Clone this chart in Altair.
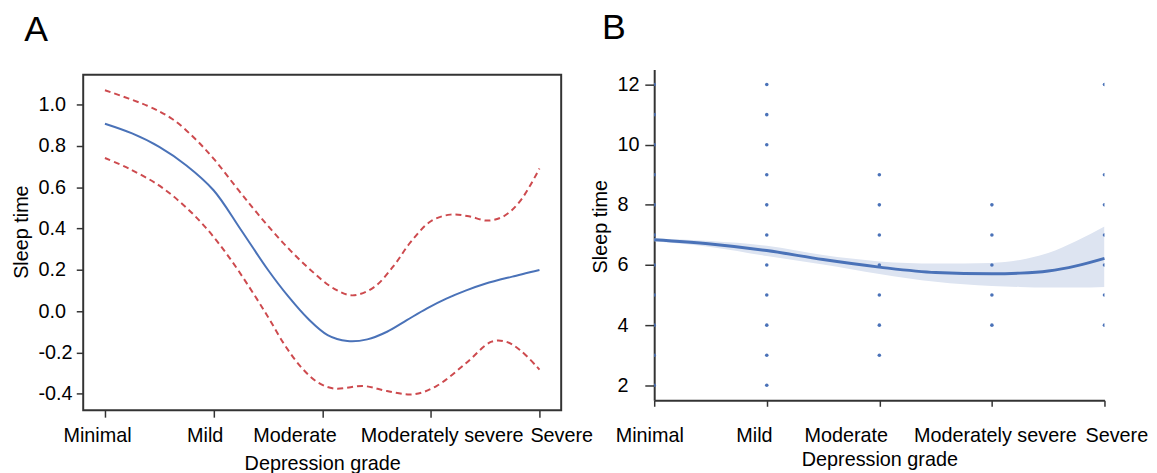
import json
import altair as alt
import pandas as pd

# ---------------- data ----------------
grades = ["Minimal", "Mild", "Moderate", "Moderately severe", "Severe"]
grade_pos = [1, 2, 3, 4, 5]

# Panel A: fitted curve and its 95% CI (dashed)
fit_x = [1.0, 1.25, 1.5, 1.75, 2.0, 2.25, 2.5, 2.686, 2.868, 3.05, 3.232, 3.415, 3.597, 3.779,
         3.961, 4.143, 4.326, 4.5, 4.75, 5.0]
fit_y = [0.907, 0.860, 0.795, 0.705, 0.585, 0.395, 0.200, 0.072, -0.036, -0.116, -0.145, -0.137,
         -0.100, -0.044, 0.012, 0.060, 0.100, 0.132, 0.167, 0.199]
upper_x = [1.0, 1.39, 1.62, 1.83, 2.0, 2.23, 2.40, 2.625, 2.868, 3.111, 3.278, 3.475, 3.658, 3.81,
           4.0, 4.18, 4.35, 4.52, 4.67, 4.82, 5.0]
upper_y = [1.069, 0.994, 0.930, 0.834, 0.738, 0.585, 0.475, 0.339, 0.211, 0.108, 0.076, 0.115,
           0.219, 0.331, 0.435, 0.467, 0.459, 0.438, 0.459, 0.531, 0.690]
lower_x = [1.0, 1.22, 1.49, 1.72, 1.93, 2.13, 2.33, 2.503, 2.656, 2.807, 2.959, 3.111, 3.384,
           3.597, 3.84, 4.052, 4.326, 4.56, 4.69, 4.82, 5.0]
lower_y = [0.741, 0.690, 0.611, 0.515, 0.403, 0.270, 0.115, -0.030, -0.165, -0.272, -0.345, -0.375,
           -0.363, -0.387, -0.403, -0.363, -0.251, -0.148, -0.148, -0.188, -0.283]
a_ticks = [-0.4, -0.2, 0.0, 0.2, 0.4, 0.6, 0.8, 1.0]

# Panel B: raw observations per grade
sleep_minimal = [2, 3, 4, 5, 6, 7, 8, 9, 10, 11, 12]
sleep_mild = [2, 3, 4, 5, 6, 7, 8, 9, 10, 11, 12]
sleep_moderate = [3, 4, 5, 6, 7, 8, 9]
sleep_modsevere = [4, 5, 6, 7, 8]
sleep_severe = [4, 5, 6, 7, 8, 9, 12]
# smooth fit with confidence band
smooth_x = [1.0, 1.5, 2.0, 2.5, 3.0, 3.5, 4.0, 4.25, 4.5, 4.75, 5.0]
smooth_y = [6.84, 6.70, 6.48, 6.18, 5.93, 5.75, 5.71, 5.73, 5.80, 5.97, 6.22]
smooth_lo = [6.79, 6.60, 6.30, 6.02, 5.70, 5.44, 5.30, 5.27, 5.25, 5.25, 5.27]
smooth_hi = [6.88, 6.80, 6.64, 6.33, 6.12, 6.05, 6.07, 6.17, 6.40, 6.80, 7.28]
b_ticks = [2, 4, 6, 8, 10, 12]

# ---------------- tables ----------------
dfA_fit = pd.DataFrame({"x": fit_x, "y": fit_y})
dfA_ci = pd.concat([
    pd.DataFrame({"x": upper_x, "y": upper_y, "band": "upper"}),
    pd.DataFrame({"x": lower_x, "y": lower_y, "band": "lower"}),
], ignore_index=True)

pts = []
for g, vals in zip(grade_pos, [sleep_minimal, sleep_mild, sleep_moderate, sleep_modsevere, sleep_severe]):
    for v in vals:
        pts.append({"x": g, "y": v})
dfB_pts = pd.DataFrame(pts)
dfB_smooth = pd.DataFrame({"x": smooth_x, "y": smooth_y, "lo": smooth_lo, "hi": smooth_hi})

# ---------------- style ----------------
FONT = "Liberation Sans"
DARK = "#333333"
BLUE = "#4a72b8"
RED = "#cd4a4e"
BAND = "#dde4f1"
label_expr = json.dumps(grades) + "[round(datum.value) - 1]"


def offset_cond(offsets):
    return {"condition": [{"test": f"datum.value == {p}", "value": o}
                          for p, o in zip(grade_pos, offsets) if o != 0],
            "value": 0}


# ---------------- panel A ----------------
xA = alt.X("x:Q", scale=alt.Scale(domain=[0.8, 5.2], nice=False, zero=False),
           axis=alt.Axis(values=grade_pos, labelExpr=label_expr, title="Depression grade",
                         grid=False, domain=False, tickSize=7, tickColor=DARK, tickWidth=1.5,
                         labelPadding=9, titlePadding=8, labelFlush=False, labelOverlap=False,
                         labelOffset=offset_cond([-8, -9, -28, 11, 22])))
yA = alt.Y("y:Q", scale=alt.Scale(domain=[-0.48, 1.144], nice=False, zero=False),
           axis=alt.Axis(values=a_ticks,
                         labelExpr="replace(format(datum.value, '.1f'), '\u2212', '-')",
                         title="Sleep time", grid=False, domain=False, tickSize=7,
                         tickColor=DARK, tickWidth=1.5, labelAlign="left", labelPadding=38.7,
                         titlePadding=7, titleY=158.5))

ciA = alt.Chart(dfA_ci).mark_line(color=RED, strokeWidth=2, strokeDash=[6, 4],
                                  interpolate="catmull-rom").encode(x=xA, y=yA, detail="band:N")
fitA = alt.Chart(dfA_fit).mark_line(color=BLUE, strokeWidth=2,
                                    interpolate="catmull-rom").encode(x=xA, y=yA)

panelA = alt.layer(ciA, fitA).properties(
    width=483, height=339,
    view=alt.ViewBackground(stroke=DARK, strokeWidth=2),
    title=alt.TitleParams("A", anchor="start", fontSize=36, font=FONT, fontWeight="normal",
                          color="#000000", dx=13, offset=26.5),
)

# ---------------- panel B ----------------
scaleBy = alt.Scale(domain=[1.5, 12.5], range=[329, -5.3], nice=False, zero=False)
axisBy = alt.Axis(values=b_ticks, format="d", title="Sleep time", grid=False,
                  domain=True, domainColor=DARK, domainWidth=2,
                  tickSize=9.5, tickColor=DARK, tickWidth=1.5,
                  labelAlign="left", labelPadding=28.2, titlePadding=6, titleY=153)
xB = alt.X("x:Q", scale=alt.Scale(domain=[1, 5], nice=False, zero=False),
           axis=alt.Axis(values=grade_pos, labelExpr=label_expr, title="Depression grade",
                         grid=False, domain=True, domainColor=DARK, domainWidth=2,
                         tickSize=6, tickColor=DARK, tickWidth=1.5,
                         labelPadding=20, titlePadding=4, labelFlush=False, labelOverlap=False,
                         labelOffset=offset_cond([-5, -13, -34, 3, 12])))
yB = alt.Y("y:Q", scale=scaleBy, axis=axisBy)

bandB = alt.Chart(dfB_smooth).mark_area(color=BAND, opacity=1, interpolate="monotone", clip=True).encode(
    x=xB, y=alt.Y("lo:Q", scale=scaleBy, axis=axisBy), y2="hi:Q")
ptsB = alt.Chart(dfB_pts).mark_circle(size=13, color=BLUE, opacity=1, clip=True).encode(x=xB, y=yB)
lineB = alt.Chart(dfB_smooth).mark_line(color=BLUE, strokeWidth=3, interpolate="monotone").encode(x=xB, y=yB)

panelB = alt.layer(bandB, ptsB, lineB).properties(
    width=455, height=329,
    title=alt.TitleParams("B", anchor="start", fontSize=36, font=FONT, fontWeight="normal",
                          color="#000000", dx=11, offset=28),
)

chart = alt.concat(panelA, panelB, columns=2, align="none", spacing=-4, bounds="full").properties(
    padding={"left": 2, "top": -1, "right": 0, "bottom": 0}
).configure(font=FONT).configure_view(stroke="transparent").configure_axis(
    labelFont=FONT, titleFont=FONT, labelFontSize=20, titleFontSize=20,
    labelColor="#000000", titleColor="#000000", titleFontWeight="normal",
)

chart.save("out.html", embed_options={"renderer": "svg", "actions": False})
